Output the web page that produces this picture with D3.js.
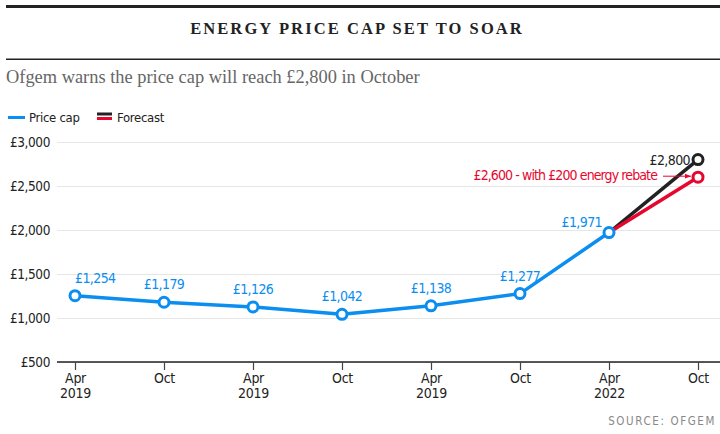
<!DOCTYPE html>
<html lang="en">
<head>
<meta charset="utf-8">
<title>Energy price cap set to soar</title>
<script src="https://cdn.jsdelivr.net/npm/d3@7"></script>
<style>
  body { margin: 0; background: #fff; }
  svg { display: block; }
  .sans { font-family: 'Liberation Sans Narrow', 'DejaVu Sans Condensed', 'Roboto', sans-serif; }
  .serif { font-family: 'Liberation Serif', 'DejaVu Serif', serif; }
</style>
</head>
<body>
<script>
// data
const periods = ["Apr|2019", "Oct", "Apr|2019", "Oct", "Apr|2019", "Oct", "Apr|2022", "Oct"];
const priceCap = [1254, 1179, 1126, 1042, 1138, 1277, 1971];
const forecast = 2800;
const forecastRebate = 2600;
const yTicks = [500, 1000, 1500, 2000, 2500, 3000];

const W = 720, H = 434;
const blue = "#0b8ef0", red = "#e8062e", black = "#222";

const svg = d3.select("body").append("svg")
  .attr("width", W).attr("height", H);

// header
svg.append("rect").attr("x", 6).attr("y", 5).attr("width", W - 6).attr("height", 3).attr("fill", black);
svg.append("text").attr("class", "serif")
  .attr("x", 357).attr("y", 34).attr("text-anchor", "middle")
  .attr("font-size", 16.5).attr("font-weight", "bold").attr("letter-spacing", 2.1)
  .attr("fill", black).text("ENERGY PRICE CAP SET TO SOAR");
svg.append("rect").attr("x", 6).attr("y", 58.5).attr("width", W - 6).attr("height", 1.5).attr("fill", black);
svg.append("text").attr("class", "serif")
  .attr("x", 6).attr("y", 83).attr("font-size", 18.4).attr("fill", "#666")
  .text("Ofgem warns the price cap will reach £2,800 in October");

// legend
const lg = svg.append("g").attr("class", "sans").attr("font-size", 13).attr("letter-spacing", -0.3).attr("fill", black);
lg.append("rect").attr("x", 8).attr("y", 116).attr("width", 17).attr("height", 3).attr("fill", blue);
lg.append("text").attr("x", 29).attr("y", 122).text("Price cap");
lg.append("rect").attr("x", 97).attr("y", 112.5).attr("width", 15).attr("height", 3).attr("fill", black);
lg.append("rect").attr("x", 97).attr("y", 117).attr("width", 15).attr("height", 3).attr("fill", red);
lg.append("text").attr("x", 117).attr("y", 122).text("Forecast");

// scales
const x = d3.scalePoint().domain(d3.range(periods.length)).range([75, 698]);
const y = d3.scaleLinear().domain([500, 3000]).range([362, 142]);

// grid + y axis
const yAxis = svg.append("g").attr("transform", "translate(57,0)")
  .call(d3.axisLeft(y).tickValues(yTicks).tickSize(-(W - 57)).tickFormat(d => "£" + d3.format(",")(d)));
yAxis.select(".domain").remove();
yAxis.selectAll(".tick line").attr("stroke", "#e6e6e6").attr("stroke-width", 1);
yAxis.selectAll(".tick text").attr("class", "sans").attr("font-size", 13.5).attr("letter-spacing", -0.4)
  .attr("fill", black).attr("x", -7);

// x axis
const xAxis = svg.append("g").attr("transform", "translate(0,362)")
  .call(d3.axisBottom(x).tickSize(8).tickFormat(""));
xAxis.select(".domain").attr("d", `M57,0H${W}`).attr("stroke", black).attr("stroke-width", 1.5);
xAxis.selectAll(".tick line").attr("stroke", "#444").attr("stroke-width", 1.2);
xAxis.selectAll(".tick").append("text")
  .attr("class", "sans").attr("font-size", 14).attr("letter-spacing", -0.3)
  .attr("fill", black).attr("text-anchor", "middle")
  .selectAll("tspan").data(i => periods[i].split("|")).join("tspan")
  .attr("x", 0).attr("y", (d, j) => 21 + j * 15).text(d => d);

// lines
const line = d3.line().x(d => x(d[0])).y(d => y(d[1]));
const last = priceCap.length - 1;
svg.append("path").attr("d", line([[last, priceCap[last]], [last + 1, forecast]]))
  .attr("fill", "none").attr("stroke", black).attr("stroke-width", 3.5);
svg.append("path").attr("d", line([[last, priceCap[last]], [last + 1, forecastRebate]]))
  .attr("fill", "none").attr("stroke", red).attr("stroke-width", 3.5);
svg.append("path").attr("d", line(priceCap.map((v, i) => [i, v])))
  .attr("fill", "none").attr("stroke", blue).attr("stroke-width", 3.5).attr("stroke-linejoin", "round");

// points
const dot = (i, v, c) => svg.append("circle").attr("cx", x(i)).attr("cy", y(v)).attr("r", 5)
  .attr("fill", "#fff").attr("stroke", c).attr("stroke-width", 3);
dot(last + 1, forecast, black);
dot(last + 1, forecastRebate, red);
priceCap.forEach((v, i) => dot(i, v, blue));

// value labels
const fmt = v => "£" + d3.format(",")(v);
const labels = svg.append("g").attr("class", "sans").attr("font-size", 14).attr("letter-spacing", -0.6);
priceCap.forEach((v, i) => {
  const t = labels.append("text").attr("fill", blue).text(fmt(v));
  if (i === last) {
    t.attr("x", x(i) - 7).attr("y", y(v) - 6).attr("text-anchor", "end");
  } else {
    t.attr("x", x(i)).attr("y", y(v) - 13).attr("text-anchor", i === 0 ? "start" : "middle");
  }
});
labels.append("text").attr("fill", black).attr("text-anchor", "end")
  .attr("x", x(last + 1) - 8).attr("y", y(forecast) + 5).text(fmt(forecast));
labels.append("text").attr("fill", red).attr("text-anchor", "end")
  .attr("x", x(last + 1) - 41).attr("y", y(forecastRebate) + 3).attr("letter-spacing", -0.9)
  .text(fmt(forecastRebate) + " - with £200 energy rebate");

// annotation arrow
svg.append("defs").append("marker").attr("id", "arr").attr("viewBox", "0 0 10 10")
  .attr("refX", 10).attr("refY", 5).attr("markerWidth", 6).attr("markerHeight", 6).attr("orient", "auto")
  .append("path").attr("d", "M0,1L10,5L0,9Z").attr("fill", red);
svg.append("line").attr("x1", x(last + 1) - 35).attr("x2", x(last + 1) - 7)
  .attr("y1", y(forecastRebate) - 1).attr("y2", y(forecastRebate) - 1)
  .attr("stroke", red).attr("stroke-width", 1).attr("marker-end", "url(#arr)");

// source
svg.append("text").attr("class", "sans").attr("x", 716).attr("y", 425)
  .attr("text-anchor", "end").attr("font-size", 11.5).attr("letter-spacing", 1.6)
  .attr("fill", "#888").text("SOURCE: OFGEM");
</script>
</body>
</html>
